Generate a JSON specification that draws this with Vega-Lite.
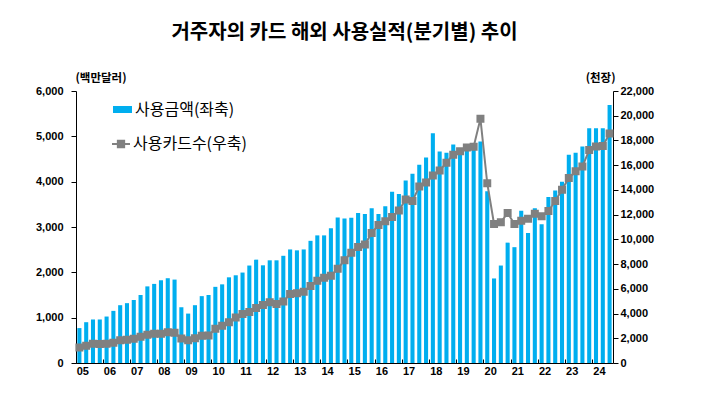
{
  "$schema": "https://vega.github.io/schema/vega-lite/v6.json",
  "width": 537,
  "height": 272,
  "autosize": {"type": "none"},
  "padding": {"left": 76, "top": 91, "right": 91, "bottom": 36},
  "background": "white",
  "title": {"text": "거주자의 카드 해외 사용실적(분기별) 추이", "font": "Noto Sans CJK KR", "fontSize": 20, "fontWeight": "bold", "color": "#000000", "anchor": "middle", "offset": 29},
  "config": {
    "view": {"stroke": null},
    "axis": {"grid": false, "domainColor": "#000000", "tickColor": "#000000", "labelFont": "Liberation Sans", "labelFontWeight": "bold", "labelFontSize": 11, "labelColor": "#000000", "titleFont": "Noto Sans CJK KR", "titleFontSize": 11.5, "titleFontWeight": "bold", "titleColor": "#000000"}
  },
  "data": {"values": [
    {"q": "2005Q1", "amt": 770, "cards": 1260},
    {"q": "2005Q2", "amt": 900, "cards": 1395},
    {"q": "2005Q3", "amt": 960, "cards": 1555},
    {"q": "2005Q4", "amt": 960, "cards": 1530},
    {"q": "2006Q1", "amt": 1025, "cards": 1555},
    {"q": "2006Q2", "amt": 1150, "cards": 1640},
    {"q": "2006Q3", "amt": 1275, "cards": 1850},
    {"q": "2006Q4", "amt": 1320, "cards": 1880},
    {"q": "2007Q1", "amt": 1390, "cards": 1960},
    {"q": "2007Q2", "amt": 1500, "cards": 2120},
    {"q": "2007Q3", "amt": 1690, "cards": 2280},
    {"q": "2007Q4", "amt": 1745, "cards": 2360},
    {"q": "2008Q1", "amt": 1825, "cards": 2360},
    {"q": "2008Q2", "amt": 1870, "cards": 2495},
    {"q": "2008Q3", "amt": 1840, "cards": 2440},
    {"q": "2008Q4", "amt": 1230, "cards": 1985},
    {"q": "2009Q1", "amt": 1090, "cards": 1850},
    {"q": "2009Q2", "amt": 1275, "cards": 2010},
    {"q": "2009Q3", "amt": 1475, "cards": 2200},
    {"q": "2009Q4", "amt": 1500, "cards": 2230},
    {"q": "2010Q1", "amt": 1680, "cards": 2765},
    {"q": "2010Q2", "amt": 1735, "cards": 3005},
    {"q": "2010Q3", "amt": 1890, "cards": 3300},
    {"q": "2010Q4", "amt": 1935, "cards": 3675},
    {"q": "2011Q1", "amt": 1995, "cards": 3970},
    {"q": "2011Q2", "amt": 2150, "cards": 4130},
    {"q": "2011Q3", "amt": 2280, "cards": 4455},
    {"q": "2011Q4", "amt": 2155, "cards": 4695},
    {"q": "2012Q1", "amt": 2265, "cards": 4910},
    {"q": "2012Q2", "amt": 2265, "cards": 4775},
    {"q": "2012Q3", "amt": 2365, "cards": 4965},
    {"q": "2012Q4", "amt": 2505, "cards": 5580},
    {"q": "2013Q1", "amt": 2485, "cards": 5635},
    {"q": "2013Q2", "amt": 2505, "cards": 5770},
    {"q": "2013Q3", "amt": 2695, "cards": 6225},
    {"q": "2013Q4", "amt": 2815, "cards": 6655},
    {"q": "2014Q1", "amt": 2815, "cards": 6895},
    {"q": "2014Q2", "amt": 2975, "cards": 7055},
    {"q": "2014Q3", "amt": 3210, "cards": 7620},
    {"q": "2014Q4", "amt": 3185, "cards": 8320},
    {"q": "2015Q1", "amt": 3205, "cards": 8910},
    {"q": "2015Q2", "amt": 3310, "cards": 9390},
    {"q": "2015Q3", "amt": 3285, "cards": 9580},
    {"q": "2015Q4", "amt": 3415, "cards": 10520},
    {"q": "2016Q1", "amt": 3285, "cards": 11160},
    {"q": "2016Q2", "amt": 3460, "cards": 11455},
    {"q": "2016Q3", "amt": 3775, "cards": 11805},
    {"q": "2016Q4", "amt": 3730, "cards": 12340},
    {"q": "2017Q1", "amt": 4025, "cards": 13230},
    {"q": "2017Q2", "amt": 4175, "cards": 13095},
    {"q": "2017Q3", "amt": 4375, "cards": 14275},
    {"q": "2017Q4", "amt": 4535, "cards": 14595},
    {"q": "2018Q1", "amt": 5070, "cards": 15160},
    {"q": "2018Q2", "amt": 4665, "cards": 15560},
    {"q": "2018Q3", "amt": 4640, "cards": 16205},
    {"q": "2018Q4", "amt": 4820, "cards": 16850},
    {"q": "2019Q1", "amt": 4710, "cards": 17120},
    {"q": "2019Q2", "amt": 4785, "cards": 17440},
    {"q": "2019Q3", "amt": 4785, "cards": 17495},
    {"q": "2019Q4", "amt": 4885, "cards": 19750},
    {"q": "2020Q1", "amt": 3790, "cards": 14540},
    {"q": "2020Q2", "amt": 1865, "cards": 11240},
    {"q": "2020Q3", "amt": 2150, "cards": 11375},
    {"q": "2020Q4", "amt": 2655, "cards": 12130},
    {"q": "2021Q1", "amt": 2555, "cards": 11240},
    {"q": "2021Q2", "amt": 3360, "cards": 11510},
    {"q": "2021Q3", "amt": 2870, "cards": 11670},
    {"q": "2021Q4", "amt": 3415, "cards": 12075},
    {"q": "2022Q1", "amt": 3060, "cards": 11860},
    {"q": "2022Q2", "amt": 3660, "cards": 12290},
    {"q": "2022Q3", "amt": 3805, "cards": 13095},
    {"q": "2022Q4", "amt": 4000, "cards": 14005},
    {"q": "2023Q1", "amt": 4595, "cards": 14970},
    {"q": "2023Q2", "amt": 4640, "cards": 15510},
    {"q": "2023Q3", "amt": 4775, "cards": 15885},
    {"q": "2023Q4", "amt": 5180, "cards": 17225},
    {"q": "2024Q1", "amt": 5180, "cards": 17520},
    {"q": "2024Q2", "amt": 5180, "cards": 17550},
    {"q": "2024Q3", "amt": 5690, "cards": 18565}
  ]},
  "encoding": {
    "x": {
      "field": "q", "type": "ordinal", "sort": null, "title": null,
      "scale": {"paddingInner": 0.4, "paddingOuter": 0.2},
      "axis": {
        "values": ["2005Q1","2006Q1","2007Q1","2008Q1","2009Q1","2010Q1","2011Q1","2012Q1","2013Q1","2014Q1","2015Q1","2016Q1","2017Q1","2018Q1","2019Q1","2020Q1","2021Q1","2022Q1","2023Q1","2024Q1"],
        "labelExpr": "substring(datum.value, 2, 4)",
        "labelAngle": 0,
        "bandPosition": -0.33,
        "labelOffset": 3.4,
        "tickSize": -4,
        "labelPadding": 6
      }
    }
  },
  "layer": [
    {
      "mark": {"type": "bar"},
      "encoding": {
        "y": {"field": "amt", "type": "quantitative", "scale": {"domain": [0, 6000]},
          "axis": {"values": [0,1000,2000,3000,4000,5000,6000], "labelExpr": "format(datum.value, ',.0f')", "tickSize": 5, "labelPadding": 8, "title": "(백만달러)", "titleAngle": 0, "titleX": -1, "titleY": -13, "titleAlign": "left", "titleBaseline": "middle"}},
        "fill": {"datum": "사용금액(좌축)", "scale": {"range": ["#00AEEF"]},
          "legend": {"orient": "none", "legendX": 36, "legendY": 8, "title": null, "padding": 0, "symbolType": "M-1,-0.37H1V0.37H-1Z", "symbolSize": 361, "labelFont": "Noto Sans CJK KR", "labelFontSize": 16, "labelColor": "#000000", "labelOffset": 2}}
      }
    },
    {
      "mark": {"type": "line", "color": "#808080", "strokeWidth": 2, "point": {"shape": "square", "size": 36, "filled": true, "fill": "#808080", "color": "#808080"}},
      "encoding": {
        "y": {"field": "cards", "type": "quantitative", "scale": {"domain": [0, 22000]},
          "axis": {"orient": "right", "values": [0,2000,4000,6000,8000,10000,12000,14000,16000,18000,20000,22000], "labelExpr": "format(datum.value, ',.0f')", "tickSize": 5, "labelPadding": 2, "title": "(천장)", "titleAngle": 0, "titleX": 2, "titleY": -13, "titleAlign": "right", "titleBaseline": "middle"}},
        "stroke": {"datum": "사용카드수(우축)", "scale": {"range": ["#808080"]},
          "legend": {"orient": "none", "legendX": 35, "legendY": 43, "title": null, "padding": 0, "symbolType": "M-1,0H1M-0.35,-0.35H0.35V0.35H-0.35Z", "symbolSize": 324, "symbolStrokeWidth": 2, "symbolFillColor": "#808080", "labelFont": "Noto Sans CJK KR", "labelFontSize": 16, "labelColor": "#000000", "labelOffset": 2}}
      }
    }
  ],
  "resolve": {"scale": {"y": "independent"}}
}
